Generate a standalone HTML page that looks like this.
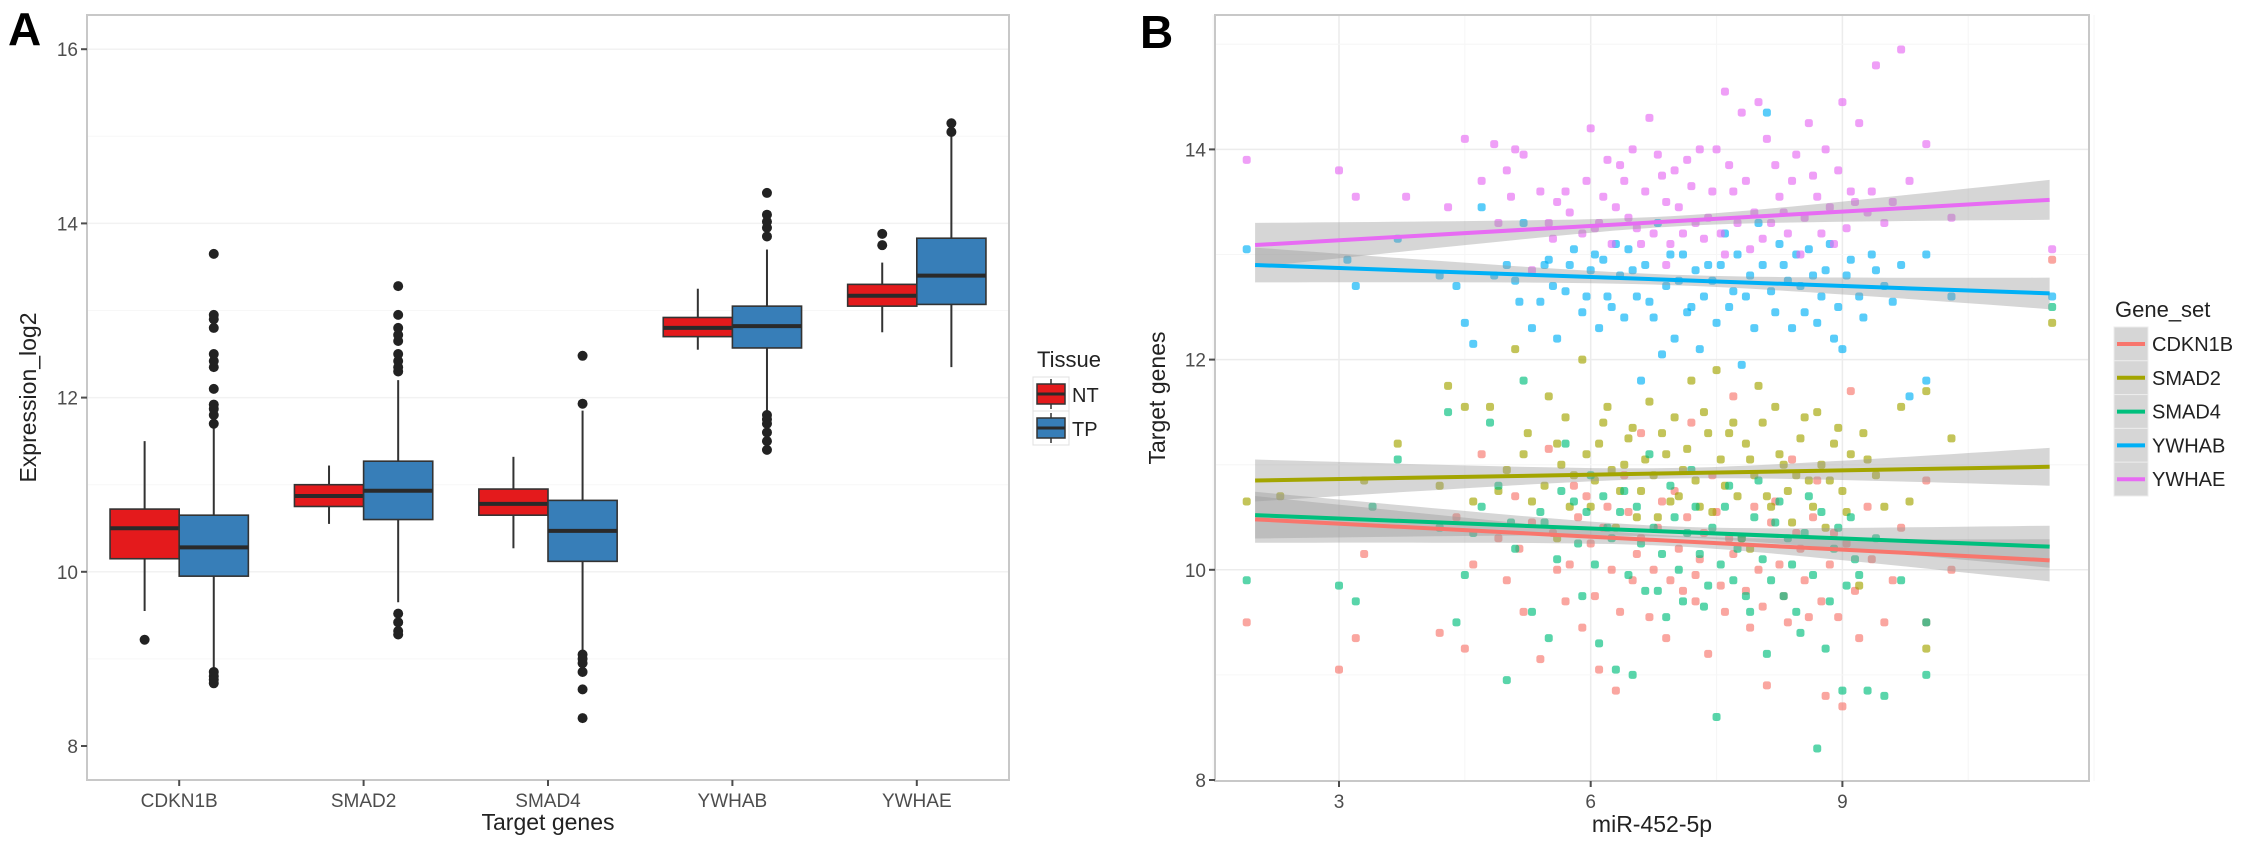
<!DOCTYPE html>
<html><head><meta charset="utf-8">
<style>
html,body{margin:0;padding:0;background:#fff;}
svg{display:block;font-family:"Liberation Sans Narrow","Liberation Sans",sans-serif;}
</style></head>
<body>
<svg id="fig" xmlns="http://www.w3.org/2000/svg" width="2244" height="851" viewBox="0 0 2244 851">
<rect x="0" y="0" width="2244" height="851" fill="#fff"/>
<g id="panelA"></g>
<g id="panelB"></g>
</svg>
<script>
// ---------- Panel A data ----------
const genesA = ["CDKN1B","SMAD2","SMAD4","YWHAB","YWHAE"];
const tissues = ["NT","TP"];
const yTicksA = [8,10,12,14,16];
const boxNT = [[9.55,10.15,10.5,10.72,11.5],[10.55,10.75,10.87,11.0,11.22],[10.27,10.65,10.78,10.95,11.32],[12.55,12.7,12.8,12.92,13.25],[12.75,13.05,13.17,13.3,13.55]];
const boxTP = [[8.9,9.95,10.28,10.65,11.65],[9.65,10.6,10.93,11.27,12.2],[9.1,10.12,10.47,10.82,11.85],[11.85,12.57,12.82,13.05,13.7],[12.35,13.07,13.4,13.83,15.0]];
const outNT = [[9.22],[],[],[],[13.75,13.88]];
const outTP = [[11.7,11.8,11.87,11.92,12.1,12.35,12.42,12.5,12.8,12.9,12.95,13.65,8.85,8.8,8.76,8.72],[12.3,12.35,12.42,12.5,12.65,12.72,12.8,12.95,13.28,9.52,9.42,9.32,9.28],[11.93,12.48,9.05,9.0,8.95,8.85,8.65,8.32],[13.85,13.95,14.02,14.1,14.35,11.8,11.75,11.7,11.6,11.5,11.4],[15.05,15.15]];

// ---------- Panel B data ----------
const genesB = ["CDKN1B","SMAD2","SMAD4","YWHAB","YWHAE"];
const xTicksB = [3,6,9];
const yTicksB = [8,10,12,14];
const fitStart = [10.48,10.85,10.52,12.9,13.09];
const fitEnd = [10.09,10.98,10.22,12.63,13.52];
const seEnd = [0.2,0.18,0.2,0.15,0.19];
const seMid = [0.05,0.05,0.05,0.05,0.05];
const ptsCDKN1B = [[1.9,9.5],[3.0,9.05],[3.2,9.35],[3.3,10.15],[4.2,9.4],[4.4,10.5],[4.5,9.25],[4.7,11.1],[4.9,10.3],[5.0,9.9],[5.1,10.7],[5.2,9.6],[5.3,10.45],[5.4,9.15],[5.5,11.15],[5.6,10.0],[5.7,9.7],[5.8,10.8],[5.9,9.45],[6.0,10.25],[6.1,9.05],[6.2,10.6],[6.3,8.85],[6.4,10.9],[6.5,9.9],[6.6,11.3],[6.7,9.55],[6.8,10.4],[6.9,9.35],[7.0,10.75],[7.1,9.8],[7.2,11.4],[7.3,10.1],[7.4,9.2],[7.5,10.55],[7.6,9.6],[7.7,11.65],[7.8,10.3],[7.9,9.45],[8.0,10.0],[8.1,8.9],[8.2,10.65],[8.3,9.75],[8.4,11.05],[8.5,10.2],[8.6,9.55],[8.7,10.85],[8.8,8.8],[8.9,10.35],[9.0,8.7],[9.1,11.7],[9.2,9.35],[9.3,10.6],[9.5,9.5],[9.7,10.4],[10.0,9.5],[10.0,10.85],[10.3,10.0],[11.5,12.95],[7.65,10.3],[6.55,10.15],[7.25,9.95],[5.85,10.5],[8.15,10.45],
[5.55,10.35],[5.75,10.05],[5.95,10.7],[6.05,9.75],[6.15,10.4],[6.25,10.0],[6.35,9.6],[6.45,10.55],[6.6,10.3],[6.75,10.0],[6.85,10.65],[6.95,9.9],[7.05,10.2],[7.15,10.5],[7.25,9.7],[7.35,10.35],[7.45,10.9],[7.55,9.85],[7.7,10.15],[7.85,9.8],[7.95,10.6],[8.05,9.65],[8.25,10.05],[8.35,9.5],[8.45,10.35],[8.55,9.9],[8.65,10.5],[8.75,9.7],[8.85,10.05],[8.95,9.55],[9.05,10.25],[9.15,9.8],[4.6,10.05],[5.15,10.2],[9.35,10.1],[9.6,9.9]];
const ptsSMAD2 = [[1.9,10.65],[2.3,10.7],[3.3,10.85],[3.7,11.2],[4.2,10.8],[4.3,11.75],[4.5,11.55],[4.6,10.65],[4.8,11.55],[5.0,10.95],[5.1,12.1],[5.2,11.1],[5.3,10.65],[5.5,11.65],[5.6,10.3],[5.7,11.45],[5.8,10.9],[5.9,12.0],[6.0,10.6],[6.1,11.2],[6.2,11.55],[6.3,10.4],[6.4,11.0],[6.5,11.35],[6.6,10.75],[6.7,11.6],[6.8,10.5],[6.9,11.1],[7.0,11.45],[7.1,10.95],[7.2,11.8],[7.3,10.6],[7.4,11.3],[7.5,11.9],[7.6,10.8],[7.7,11.4],[7.8,10.3],[7.9,11.05],[8.0,11.75],[8.1,10.7],[8.2,11.55],[8.3,11.0],[8.4,10.45],[8.5,11.25],[8.6,10.85],[8.7,11.5],[8.8,10.4],[8.9,11.2],[9.0,10.75],[9.1,11.1],[9.2,9.85],[9.3,11.05],[9.5,10.6],[9.7,11.55],[9.8,10.65],[10.0,11.7],[10.0,9.25],[10.3,11.25],[11.5,12.35],[7.9,10.2],[6.25,10.95],[7.05,10.7],[8.45,10.9],[5.65,11.0],
[5.45,10.8],[5.6,11.2],[5.75,10.6],[5.95,11.1],[6.05,10.85],[6.15,11.4],[6.35,10.75],[6.45,11.25],[6.55,10.5],[6.65,11.05],[6.75,10.9],[6.85,11.3],[6.95,10.65],[7.15,11.15],[7.25,10.85],[7.35,11.5],[7.45,10.55],[7.55,11.05],[7.65,11.3],[7.75,10.7],[7.85,11.2],[7.95,10.9],[8.05,11.4],[8.15,10.6],[8.25,11.1],[8.35,10.75],[8.55,11.45],[8.65,10.6],[8.75,11.0],[8.85,10.85],[8.95,11.35],[9.05,10.55],[9.25,11.3],[4.9,10.75],[5.25,11.3],[9.4,10.9]];
const ptsSMAD4 = [[1.9,9.9],[3.0,9.85],[3.2,9.7],[3.4,10.6],[3.7,11.05],[4.2,10.4],[4.3,11.5],[4.4,9.5],[4.5,9.95],[4.6,10.35],[4.8,11.4],[4.9,10.8],[5.0,8.95],[5.1,10.2],[5.2,11.8],[5.3,9.6],[5.4,10.55],[5.5,9.35],[5.6,10.1],[5.7,11.2],[5.8,10.65],[5.9,9.75],[6.0,10.9],[6.1,9.3],[6.2,10.4],[6.3,9.05],[6.4,10.75],[6.5,9.0],[6.6,10.25],[6.7,11.1],[6.8,9.8],[6.9,9.55],[7.0,10.5],[7.1,9.7],[7.2,10.95],[7.3,10.15],[7.4,9.85],[7.5,8.6],[7.6,10.6],[7.7,9.9],[7.8,10.3],[7.9,9.6],[8.0,10.85],[8.1,9.2],[8.2,10.45],[8.3,9.75],[8.4,10.05],[8.5,9.4],[8.6,10.7],[8.7,8.3],[8.8,9.25],[8.9,10.2],[9.0,8.85],[9.1,10.5],[9.2,9.95],[9.3,8.85],[9.5,8.8],[9.7,9.9],[10.0,9.5],[10.0,9.0],[11.5,12.5],[6.35,10.55],[7.15,10.35],[8.05,10.1],
[5.45,10.45],[5.65,10.75],[5.85,10.25],[5.95,10.55],[6.05,10.05],[6.15,10.7],[6.25,10.3],[6.45,9.95],[6.55,10.6],[6.65,9.8],[6.75,10.4],[6.85,10.15],[6.95,10.8],[7.05,10.0],[7.25,10.6],[7.35,9.65],[7.45,10.4],[7.55,10.05],[7.65,10.8],[7.75,10.2],[7.85,9.75],[7.95,10.5],[8.15,9.9],[8.25,10.65],[8.35,10.3],[8.45,9.6],[8.55,10.35],[8.65,9.95],[8.75,10.55],[8.85,9.7],[8.95,10.4],[9.05,9.85],[9.15,10.1],[4.7,10.6],[5.05,10.45],[9.4,10.3]];
const ptsYWHAB = [[1.9,13.05],[3.1,12.95],[3.2,12.7],[3.7,13.15],[4.2,12.8],[4.4,12.7],[4.5,12.35],[4.6,12.15],[4.7,13.45],[5.0,12.9],[5.1,12.75],[5.2,13.3],[5.3,12.3],[5.4,12.55],[5.5,12.95],[5.6,12.2],[5.7,12.65],[5.8,13.05],[5.9,12.45],[6.0,12.85],[6.1,12.3],[6.2,12.6],[6.3,13.1],[6.4,12.4],[6.5,12.85],[6.6,11.8],[6.7,12.55],[6.8,13.3],[6.9,12.7],[7.0,12.2],[7.1,13.0],[7.2,12.5],[7.3,12.1],[7.4,12.9],[7.5,12.35],[7.6,13.2],[7.7,12.65],[7.8,11.95],[7.9,12.8],[8.0,13.3],[8.1,14.35],[8.2,12.45],[8.3,12.9],[8.4,12.3],[8.5,12.7],[8.6,13.05],[8.7,12.35],[8.8,12.85],[8.9,12.2],[9.0,12.1],[9.1,12.95],[9.2,12.6],[9.4,12.85],[9.6,12.55],[9.8,11.65],[10.0,13.0],[10.0,11.8],[10.3,12.6],[11.5,12.6],[6.85,12.05],[6.05,13.0],[7.45,12.75],[8.25,13.1],[5.45,12.9],
[5.55,12.7],[5.75,12.9],[5.95,12.6],[6.15,12.95],[6.25,12.5],[6.35,12.8],[6.45,13.05],[6.55,12.6],[6.65,12.9],[6.75,12.4],[6.95,13.0],[7.05,12.75],[7.15,12.45],[7.25,12.85],[7.35,12.6],[7.55,12.9],[7.65,12.5],[7.75,13.0],[7.85,12.6],[7.95,12.3],[8.05,12.9],[8.15,12.65],[8.35,12.75],[8.45,13.0],[8.55,12.45],[8.65,12.8],[8.75,12.6],[8.85,13.1],[8.95,12.5],[9.05,12.8],[9.25,12.4],[4.85,12.8],[5.15,12.55],[9.35,13.0],[9.5,12.7],[9.7,12.9]];
const ptsYWHAE = [[1.9,13.9],[3.0,13.8],[3.2,13.55],[3.8,13.55],[4.3,13.45],[4.5,14.1],[4.7,13.7],[4.85,14.05],[5.0,13.8],[5.1,14.0],[5.2,13.95],[5.4,13.6],[5.5,13.3],[5.6,13.5],[5.7,13.6],[5.9,13.2],[6.0,14.2],[6.1,13.3],[6.2,13.9],[6.3,13.45],[6.4,13.7],[6.5,14.0],[6.6,13.1],[6.7,14.3],[6.8,13.95],[6.9,13.5],[7.0,13.8],[7.1,13.2],[7.2,13.65],[7.3,14.0],[7.4,13.35],[7.5,14.0],[7.6,14.55],[7.7,13.6],[7.8,14.35],[7.9,13.05],[8.0,14.45],[8.1,14.1],[8.2,13.85],[8.3,13.4],[8.4,13.7],[8.5,13.0],[8.6,14.25],[8.7,13.55],[8.8,14.0],[8.9,13.1],[9.0,14.45],[9.1,13.6],[9.2,14.25],[9.3,13.4],[9.4,14.8],[9.5,13.3],[9.7,14.95],[9.8,13.7],[10.0,14.05],[10.3,13.35],[11.5,13.05],[6.9,12.9],[7.6,13.0],[5.3,12.85],[6.55,13.25],[7.35,13.15],[8.15,13.3],
[5.55,13.15],[5.75,13.4],[5.95,13.7],[6.05,13.25],[6.15,13.55],[6.25,13.1],[6.35,13.85],[6.45,13.35],[6.65,13.6],[6.75,13.2],[6.85,13.75],[6.95,13.1],[7.05,13.45],[7.15,13.9],[7.25,13.3],[7.45,13.6],[7.55,13.2],[7.65,13.85],[7.75,13.3],[7.85,13.7],[7.95,13.4],[8.05,13.15],[8.25,13.55],[8.35,13.2],[8.45,13.95],[8.55,13.35],[8.65,13.75],[8.75,13.2],[8.85,13.45],[8.95,13.8],[9.05,13.25],[9.15,13.5],[4.9,13.3],[5.05,13.55],[9.35,13.6],[9.6,13.5]];
const ptsB = [ptsCDKN1B,ptsSMAD2,ptsSMAD4,ptsYWHAB,ptsYWHAE];
const colorsB = ["#F8766D","#A3A500","#00BF7D","#00B0F6","#E76BF3"];

const NS="http://www.w3.org/2000/svg";
function mk(parent, tag, attrs, text){
  const e=document.createElementNS(NS,tag);
  for(const k in attrs) e.setAttribute(k,attrs[k]);
  if(text!==undefined) e.textContent=text;
  parent.appendChild(e); return e;
}

// ---------- Panel A ----------
(function(){
  const g=document.getElementById('panelA');
  const L=87,R=1009,T=15,B=780;
  const yA=v=>746-(v-8)*87.1;
  const step=(R-L)/genesA.length;
  const xA=i=>L+step*(i+0.5);
  const bw=step*0.75/2;
  let el=mk(g,'text',{x:8,y:45,'font-size':46,'font-weight':'bold','font-family':'Liberation Sans,sans-serif',fill:'#000'},'A');
  
  
  for(let v=9;v<=16;v++){
    const l=mk(g,'line',{x1:L,x2:R,y1:yA(v),y2:yA(v),stroke:(v%2? '#f7f7f7':'#f2f2f2'),'stroke-width':v%2?1:1.5});
    
    
  }
  el=mk(g,'rect',{x:L,y:T,width:R-L,height:B-T,fill:'none',stroke:'#c8c8c8','stroke-width':2});
  
  
  yTicksA.forEach(v=>{
    mk(g,'line',{x1:L-6,x2:L,y1:yA(v),y2:yA(v),stroke:'#4d4d4d','stroke-width':2});
    const t=mk(g,'text',{x:L-9,y:yA(v)+7,'text-anchor':'end','font-size':19,fill:'#4d4d4d'},String(v));
    
    
  });
  genesA.forEach((gname,i)=>{
    mk(g,'line',{x1:xA(i),x2:xA(i),y1:B,y2:B+6,stroke:'#4d4d4d','stroke-width':2});
    const t=mk(g,'text',{x:xA(i),y:B+27,'text-anchor':'middle','font-size':19,fill:'#4d4d4d'},gname);
    
    
    [[boxNT[i],outNT[i],'#E41A1C',-1],[boxTP[i],outTP[i],'#377EB8',1]].forEach(([s,outs,col,side])=>{
      const cx=xA(i)+side*bw/2, x0=cx-bw/2;
      const grp=mk(g,'g',{});
      
      
      mk(grp,'line',{x1:cx,x2:cx,y1:yA(s[0]),y2:yA(s[1]),stroke:'#333','stroke-width':2});
      mk(grp,'line',{x1:cx,x2:cx,y1:yA(s[3]),y2:yA(s[4]),stroke:'#333','stroke-width':2});
      mk(grp,'rect',{x:x0,y:yA(s[3]),width:bw,height:yA(s[1])-yA(s[3]),fill:col,stroke:'#333','stroke-width':1.6});
      mk(grp,'line',{x1:x0,x2:x0+bw,y1:yA(s[2]),y2:yA(s[2]),stroke:'#2a2a2a','stroke-width':4});
      outs.forEach(o=>{
        const c=mk(grp,'circle',{cx:cx,cy:yA(o),r:5,fill:'#222'});
        
        
      });
    });
  });
  el=mk(g,'text',{x:(L+R)/2,y:830,'text-anchor':'middle','font-size':23,fill:'#222'},'Target genes');
  
  
  el=mk(g,'text',{x:0,y:0,'text-anchor':'middle','font-size':23,fill:'#222',transform:'translate(36,'+((T+B)/2)+') rotate(-90)'},'Expression_log2');
  
  
  const lg=mk(g,'g',{});
  
  
  mk(lg,'text',{x:1037,y:367,'font-size':22,fill:'#222'},'Tissue');
  const cols=['#E41A1C','#377EB8'];
  tissues.forEach((tname,k)=>{
    const ky=377+k*34;
    const e=mk(lg,'g',{});
    
    
    mk(e,'rect',{x:1033,y:ky,width:36,height:34,fill:'#fff',stroke:'#e0e0e0','stroke-width':1});
    mk(e,'line',{x1:1051,x2:1051,y1:ky+2,y2:ky+32,stroke:'#333','stroke-width':1.5});
    mk(e,'rect',{x:1037,y:ky+7,width:28,height:20,fill:cols[k],stroke:'#333','stroke-width':1.5});
    mk(e,'line',{x1:1037,x2:1065,y1:ky+17,y2:ky+17,stroke:'#2a2a2a','stroke-width':3});
    mk(e,'text',{x:1072,y:ky+25,'font-size':20,fill:'#222'},tname);
  });
})();

// ---------- Panel B ----------
(function(){
  const g=document.getElementById('panelB');
  const L=1215,R=2089,T=15,B=781;
  const xB=v=>1339+(v-3)*83.9;
  const yB=v=>780-(v-8)*105.1;
  let el=mk(g,'text',{x:1140,y:48,'font-size':46,'font-weight':'bold','font-family':'Liberation Sans,sans-serif',fill:'#000'},'B');
  
  
  for(let v=1.5;v<=12;v+=1.5){
    const major=xTicksB.includes(v);
    const l=mk(g,'line',{x1:xB(v),x2:xB(v),y1:T,y2:B,stroke:major?'#ececec':'#f6f6f6','stroke-width':major?1.5:1});
    
    
  }
  for(let v=9;v<=15;v++){
    const major=yTicksB.includes(v);
    const l=mk(g,'line',{x1:L,x2:R,y1:yB(v),y2:yB(v),stroke:major?'#ececec':'#f6f6f6','stroke-width':major?1.5:1});
    
    
  }
  ptsB.forEach((pts,gi)=>{
    const pg=mk(g,'g',{});
    
    
    pts.forEach(p=>{
      const c=mk(pg,'rect',{x:xB(p[0])-4,y:yB(p[1])-4,width:8,height:8,rx:2.5,fill:colorsB[gi],'fill-opacity':0.65});
      
      
    });
  });
  const xs=2.0, xe=11.47, xm=7.0;
  genesB.forEach((gn,gi)=>{
    const f=x=>fitStart[gi]+(fitEnd[gi]-fitStart[gi])*(x-xs)/(xe-xs);
    const hw=x=>{const t=(x-xm)/(xe-xm);return Math.sqrt(seMid[gi]*seMid[gi]+(seEnd[gi]*seEnd[gi]-seMid[gi]*seMid[gi])*t*t);};
    let up=[],dn=[];
    for(let k=0;k<=40;k++){const x=xs+(xe-xs)*k/40;up.push(xB(x).toFixed(1)+','+yB(f(x)+hw(x)).toFixed(1));dn.unshift(xB(x).toFixed(1)+','+yB(f(x)-hw(x)).toFixed(1));}
    const band=mk(g,'polygon',{points:up.concat(dn).join(' '),fill:'#999','fill-opacity':0.4});
    
    
  });
  genesB.forEach((gn,gi)=>{
    const ln=mk(g,'line',{x1:xB(xs),y1:yB(fitStart[gi]),x2:xB(xe),y2:yB(fitEnd[gi]),stroke:colorsB[gi],'stroke-width':4});
    
    
  });
  el=mk(g,'rect',{x:L,y:T,width:R-L,height:B-T,fill:'none',stroke:'#c8c8c8','stroke-width':2});
  
  
  yTicksB.forEach(v=>{
    mk(g,'line',{x1:L-6,x2:L,y1:yB(v),y2:yB(v),stroke:'#4d4d4d','stroke-width':2});
    const t=mk(g,'text',{x:L-9,y:yB(v)+7,'text-anchor':'end','font-size':19,fill:'#4d4d4d'},String(v));
    
    
  });
  xTicksB.forEach(v=>{
    mk(g,'line',{x1:xB(v),x2:xB(v),y1:B,y2:B+6,stroke:'#4d4d4d','stroke-width':2});
    const t=mk(g,'text',{x:xB(v),y:B+27,'text-anchor':'middle','font-size':19,fill:'#4d4d4d'},String(v));
    
    
  });
  el=mk(g,'text',{x:(L+R)/2,y:832,'text-anchor':'middle','font-size':23,fill:'#222'},'miR-452-5p');
  
  
  el=mk(g,'text',{x:0,y:0,'text-anchor':'middle','font-size':23,fill:'#222',transform:'translate(1165,398) rotate(-90)'},'Target genes');
  
  
  const lg=mk(g,'g',{});
  
  
  mk(lg,'text',{x:2115,y:317,'font-size':22,fill:'#222'},'Gene_set');
  genesB.forEach((gn,gi)=>{
    const ky=327+gi*33.8;
    const e=mk(lg,'g',{});
    
    
    mk(e,'rect',{x:2114,y:ky,width:34,height:33.8,fill:'#d6d6d6',stroke:'#ececec','stroke-width':1});
    mk(e,'line',{x1:2117,x2:2145,y1:ky+17,y2:ky+17,stroke:colorsB[gi],'stroke-width':4});
    mk(e,'text',{x:2152,y:ky+24,'font-size':20,fill:'#222'},gn);
  });
})();
</script>
</body></html>
